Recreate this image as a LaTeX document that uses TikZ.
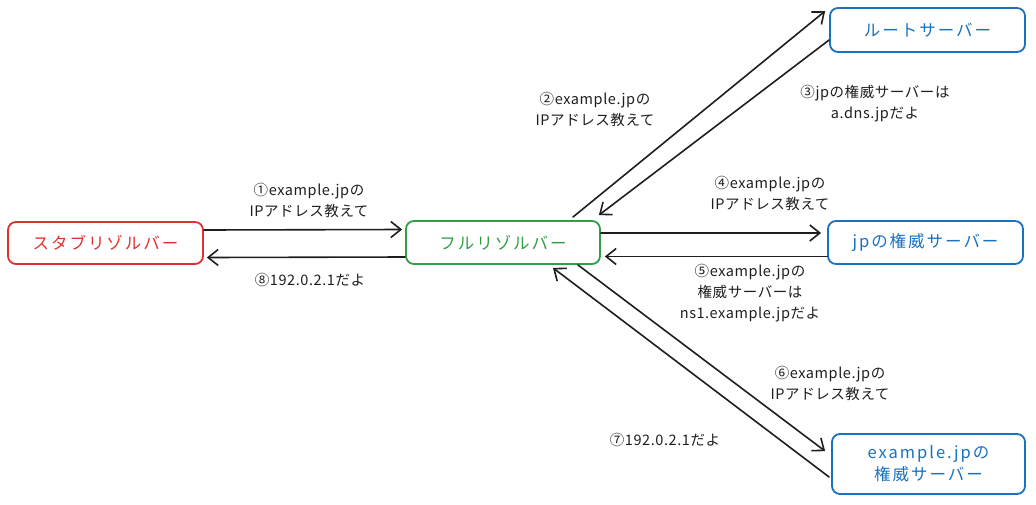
\documentclass[tikz,border=0pt]{standalone}
\usepackage{fontspec}
\setmainfont{Noto Sans CJK JP}
\newfontfamily\boxfont[LetterSpace=12]{Noto Sans CJK JP}
\newfontfamily\lblfont[LetterSpace=4]{Noto Sans CJK JP}
\usetikzlibrary{arrows.meta}
\definecolor{ink}{HTML}{1E1E1E}
\definecolor{xred}{HTML}{E03131}
\definecolor{xgreen}{HTML}{2F9E44}
\definecolor{xblue}{HTML}{1971C2}
\tikzset{
  box/.style={draw, line width=1.8pt, rounded corners=8pt, fill=white, inner sep=0pt, align=center, font=\boxfont\fontsize{16.5}{22}\selectfont},
  redbox/.style={box, draw=xred, text=xred, minimum width=195pt, minimum height=42pt},
  greenbox/.style={box, draw=xgreen, text=xgreen, minimum width=194pt, minimum height=43pt},
  bluebox/.style={box, draw=xblue, text=xblue, minimum width=195pt, minimum height=44pt},
  arr/.style={draw=ink, line width=1.6pt, line cap=round, -{Straight Barb[length=10pt,width=16pt,line width=1.6pt]}},
  lbl/.style={text=ink, align=center, font=\lblfont\fontsize{14.5}{21}\selectfont, inner sep=0pt}
}
\begin{document}
\begin{tikzpicture}[x=1pt,y=-1pt]
\useasboundingbox (0,0) rectangle (1036,504);
\node[redbox] (stub) at (105.5,243) {スタブリゾルバー};
\node[greenbox] (full) at (503,242.5) {フルリゾルバー};
\node[bluebox] (root) at (927.5,30) {ルートサーバー};
\node[bluebox, minimum height=43pt] (jp) at (925.5,242.5) {jpの権威サーバー};
\node[bluebox, minimum width=193pt, minimum height=60pt] (ex) at (928.5,464) {example.jpの\\権威サーバー};

\draw[arr] ([shift={(0,-13)}]stub.east) -- ([shift={(-3,-13)}]full.west);
\draw[arr] ([shift={(0,14.5)}]full.west) -- ([shift={(3,14.5)}]stub.east);
\draw[arr] ([shift={(-28,-3)}]full.north east) -- ([shift={(-4,4)}]root.north west);
\draw[arr] ([shift={(0,10)}]root.west) -- ([shift={(-2,-5)}]full.north east);
\draw[arr] ([shift={(0,-9.5)}]full.east) -- ([shift={(-6,-9.5)}]jp.west);
\draw[arr] ([shift={(0,14)}]jp.west) -- ([shift={(4,14)}]full.east);
\draw[arr] ([shift={(-23,0)}]full.south east) -- ([shift={(-6,18)}]ex.north west);
\draw[arr] ([shift={(-2,13)}]ex.west) -- ([shift={(50,3)}]full.south);

\node[lbl] (l1) at (309,200) {①example.jpの\\IPアドレス教えて};
\node[lbl] (l8) at (310,280) {⑧192.0.2.1だよ};
\node[lbl] (l2) at (595,109) {②example.jpの\\IPアドレス教えて};
\node[lbl] (l3) at (875,104) {③jpの権威サーバーは\\a.dns.jpだよ};
\node[lbl] (l4) at (770,193) {④example.jpの\\IPアドレス教えて};
\node[lbl] (l5) at (750,293) {⑤example.jpの\\権威サーバーは\\ns1.example.jpだよ};
\node[lbl] (l6) at (830,383) {⑥example.jpの\\IPアドレス教えて};
\node[lbl] (l7) at (665,440) {⑦192.0.2.1だよ};
\end{tikzpicture}
\end{document}
